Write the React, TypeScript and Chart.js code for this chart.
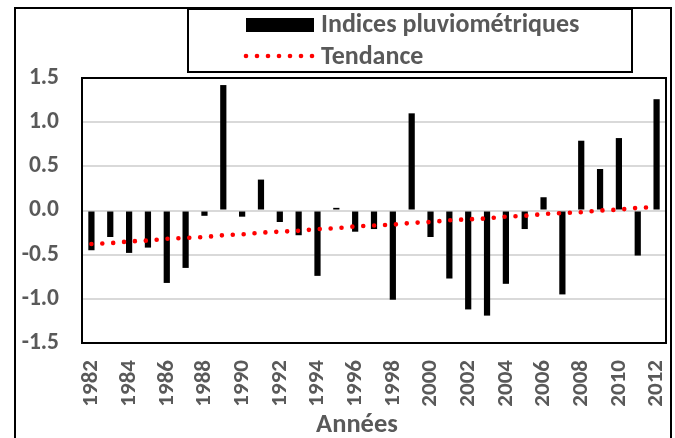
import React, { useEffect, useRef } from "react";
import { Chart, registerables } from "chart.js";

Chart.register(...registerables);

const years = [
  "1982", "1983", "1984", "1985", "1986", "1987", "1988", "1989", "1990", "1991",
  "1992", "1993", "1994", "1995", "1996", "1997", "1998", "1999", "2000", "2001",
  "2002", "2003", "2004", "2005", "2006", "2007", "2008", "2009", "2010", "2011", "2012",
];

const indices = [
  -0.45, -0.3, -0.48, -0.42, -0.82, -0.65, -0.06, 1.42, -0.07, 0.35,
  -0.13, -0.28, -0.74, 0.03, -0.24, -0.21, -1.01, 1.1, -0.3, -0.77,
  -1.12, -1.19, -0.83, -0.21, 0.15, -0.95, 0.79, 0.47, 0.82, -0.51, 1.26,
];

const tendance = [
  -0.38, -0.37, -0.35, -0.34, -0.32, -0.31, -0.3, -0.28, -0.27, -0.25,
  -0.24, -0.23, -0.21, -0.2, -0.18, -0.17, -0.16, -0.14, -0.13, -0.11,
  -0.1, -0.09, -0.07, -0.06, -0.04, -0.03, -0.02, 0.0, 0.01, 0.03, 0.04,
];

const yTicks = [-1.5, -1.0, -0.5, 0.0, 0.5, 1.0, 1.5];

const seriesLabels = ["Indices pluviométriques", "Tendance"];
const axisTitle = "Années";

const FONT = "Carlito, Calibri, Lato, 'Open Sans', sans-serif";
const GRAY = "#595959";

const framePlugin = {
  id: "frames",
  afterDraw(chart: any) {
    const ctx = chart.ctx;
    const a = chart.chartArea;
    ctx.save();
    ctx.strokeStyle = "#000";
    ctx.lineWidth = 2;
    // outer frame
    ctx.strokeRect(15, 8, 656, 440);
    // plot frame
    ctx.strokeRect(a.left, a.top, a.right - a.left, a.bottom - a.top);
    // legend box
    ctx.fillStyle = "#fff";
    ctx.fillRect(188, 9, 444, 63);
    ctx.strokeRect(188, 9, 444, 63);
    // legend items
    ctx.fillStyle = "#000";
    ctx.fillRect(246, 18, 68, 14);
    ctx.fillStyle = "red";
    for (let i = 0; i < 7; i++) {
      ctx.beginPath();
      ctx.arc(246 + i * 11, 56, 2.3, 0, Math.PI * 2);
      ctx.fill();
    }
    ctx.fillStyle = GRAY;
    ctx.font = `bold 26px ${FONT}`;
    ctx.textBaseline = "alphabetic";
    ctx.textAlign = "left";
    ctx.fillText(seriesLabels[0], 321, 32);
    ctx.fillText(seriesLabels[1], 321, 64);
    // axis title
    ctx.textAlign = "center";
    ctx.font = `bold 26.5px ${FONT}`;
    ctx.fillText(axisTitle, 357, 432);
    ctx.restore();
  },
};

export default function App() {
  const ref = useRef<HTMLCanvasElement>(null);
  useEffect(() => {
    const chart = new Chart(ref.current!, {
      type: "bar",
      data: {
        labels: years,
        datasets: [
          {
            type: "line",
            label: seriesLabels[1],
            data: tendance,
            borderColor: "red",
            borderWidth: 4.6,
            borderDash: [0, 10.9],
            borderCapStyle: "round",
            pointRadius: 0,
            fill: false,
            tension: 0,
          } as any,
          {
            type: "bar",
            label: seriesLabels[0],
            data: indices,
            backgroundColor: "#000",
            categoryPercentage: 1,
            barPercentage: 0.33,
          },
        ],
      },
      options: {
        animation: false,
        responsive: false,
        layout: { padding: { left: 15, top: 78, right: 9, bottom: 0 } },
        plugins: { legend: { display: false }, tooltip: { enabled: false } },
        scales: {
          x: {
            offset: true,
            grid: { display: false, drawTicks: false },
            border: { display: false },
            afterFit: (s: any) => {
              s.height = 95;
              s.paddingLeft = 0;
              s.paddingRight = 0;
            },
            ticks: {
              autoSkip: false,
              minRotation: 90,
              maxRotation: 90,
              padding: 17,
              color: GRAY,
              font: { family: FONT, size: 23, weight: "bold" },
              callback: (_v: any, i: number) => (i % 2 === 0 ? years[i] : ""),
            },
          },
          y: {
            min: yTicks[0],
            max: yTicks[yTicks.length - 1],
            afterFit: (s: any) => {
              s.width = 67;
              s.paddingTop = 0;
              s.paddingBottom = 0;
            },
            afterBuildTicks: (s: any) => {
              s.ticks = yTicks.map((v) => ({ value: v }));
            },
            grid: { color: "#d9d9d9", lineWidth: 2, drawTicks: false },
            border: { display: false },
            ticks: {
              padding: 23,
              color: GRAY,
              font: { family: FONT, size: 23.5, weight: "bold" },
              callback: (v: any) => Number(v).toFixed(1),
            },
          },
        },
      },
      plugins: [framePlugin],
    });
    return () => chart.destroy();
  }, []);
  return (
    <div style={{ position: "fixed", left: 0, top: 0, width: 675, height: 438, background: "#fff" }}>
      <canvas ref={ref} width={675} height={438} />
    </div>
  );
}
